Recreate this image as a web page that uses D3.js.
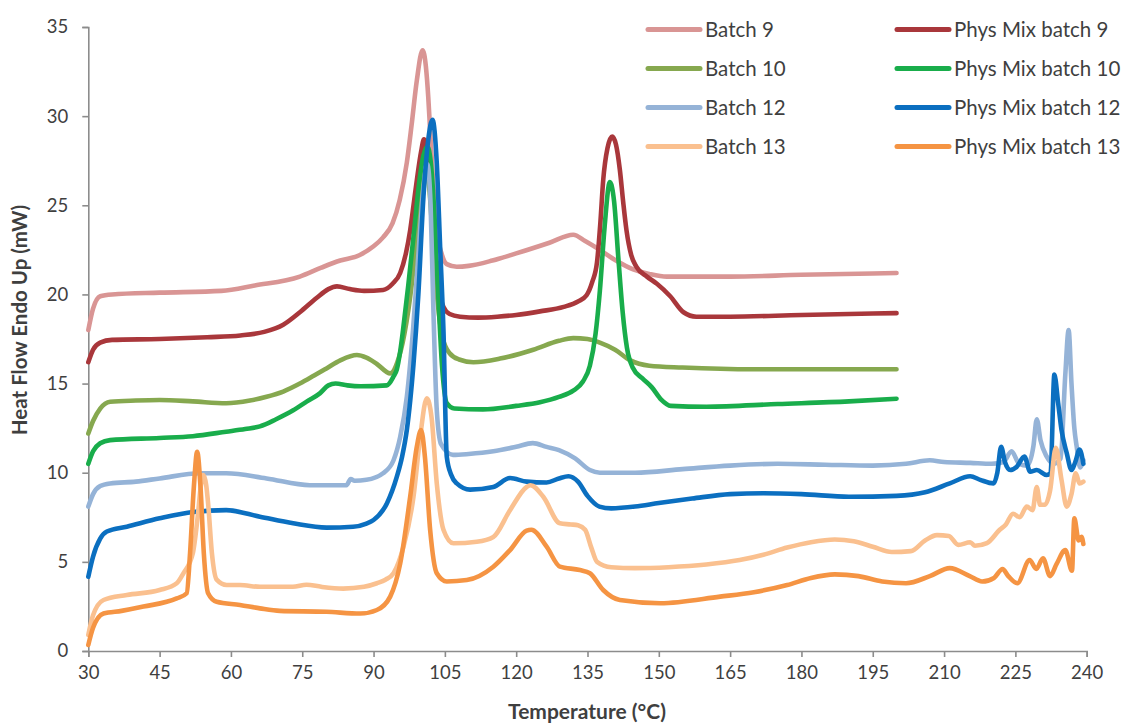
<!DOCTYPE html>
<html><head><meta charset="utf-8">
<script src="https://cdn.jsdelivr.net/npm/d3@7"></script>
<style>
html,body{margin:0;padding:0;background:#fff;}
svg{display:block;}
text{font-family:Lato,"Open Sans",sans-serif;}
</style></head>
<body>
<svg id="chart" width="1126" height="726"></svg>
<script>
// ---- data: [temperature °C, heat flow mW] ----
const xTicks = [30,45,60,75,90,105,120,135,150,165,180,195,210,225,240];
const yTicks = [0,5,10,15,20,25,30,35];
const seriesNames = ["Batch 9","Phys Mix batch 9","Batch 10","Phys Mix batch 10","Batch 12","Phys Mix batch 12","Batch 13","Phys Mix batch 13"];
const seriesColors = ["#d99594","#a9373b","#86a84f","#19ad4b","#95b3d7","#0b6fc0","#fac08f","#f59443"];

const batch9 = [[30,18.0],[31,19.2],[32.5,19.9],[35,20.0],[45,20.1],[58,20.2],[65,20.5],[74.5,21.0],[79,21.5],[83,21.9],[87,22.2],[90,22.7],[92,23.2],[94,24.0],[95.5,25.3],[97,27.4],[98,29.5],[99.1,32.0],[100.3,33.7],[101,32.8],[101.5,31.1],[101.9,29.2],[102.6,26.0],[103.3,23.6],[104.3,22.3],[105.4,21.7],[107.5,21.55],[110,21.6],[115,21.9],[120,22.3],[127,22.9],[132,23.35],[134.5,23.0],[137.6,22.5],[141,21.9],[144.6,21.4],[148,21.15],[151.7,21.0],[165,21.0],[180,21.1],[200,21.2]];
const physMix9 = [[30,16.2],[31,16.9],[32.5,17.3],[35,17.45],[45,17.5],[55,17.6],[62,17.7],[67,17.9],[71,18.3],[74.5,19.0],[78,19.8],[80.5,20.3],[82.3,20.45],[85,20.3],[88,20.2],[92,20.25],[94,20.6],[95.6,21.2],[96.8,22.3],[97.7,23.6],[98.5,25.2],[99.2,26.6],[100,28.0],[100.6,28.7],[101.3,28.0],[102,25.5],[102.8,22.5],[103.7,20.3],[104.7,19.3],[106,18.9],[108.2,18.75],[112,18.7],[116,18.75],[120,18.85],[125,19.05],[130,19.3],[133,19.6],[134.8,19.95],[136,20.7],[137,21.8],[137.7,24.0],[138.3,26.4],[139.2,28.2],[140.2,28.85],[141,28.4],[141.8,27.0],[142.5,25.2],[143.2,23.6],[144.2,22.2],[145.3,21.55],[147.5,21.0],[149.6,20.6],[152.4,19.9],[155.2,19.0],[157.9,18.75],[165,18.75],[180,18.85],[200,18.95]];
const batch10 = [[30,12.2],[31,12.9],[32.5,13.6],[34.6,13.98],[40,14.05],[45,14.08],[52,14.0],[59,13.9],[64,14.05],[67.5,14.26],[71,14.55],[74.5,15.0],[77.5,15.45],[80.1,15.85],[83,16.3],[86.5,16.6],[88.5,16.45],[90.7,16.1],[93.5,15.57],[95,16.2],[96.5,17.8],[98,20.5],[99.3,24.0],[100.3,26.5],[101,27.0],[101.7,26.0],[102.5,23.0],[103.5,19.5],[104.5,17.6],[106,16.7],[108,16.35],[111,16.2],[116.6,16.4],[123.6,16.9],[129,17.4],[132,17.55],[135,17.5],[137.6,17.3],[140.8,16.9],[144,16.3],[148,16.0],[155,15.9],[170,15.8],[200,15.8]];
const physMix10 = [[30,10.5],[31,11.2],[32.5,11.65],[34.6,11.83],[45,11.95],[52,12.05],[59,12.3],[63,12.45],[66.1,12.6],[69.5,13.0],[73.1,13.5],[76,14.0],[78.7,14.45],[80.5,14.9],[82,15.0],[84.5,14.9],[87.2,14.85],[92.8,14.9],[94.2,15.4],[94.9,15.8],[95.6,16.8],[96.2,18.0],[97.3,20.5],[98.5,23.5],[99.7,26.5],[100.5,27.8],[101.3,28.3],[102,27.5],[102.8,24.5],[103.6,20.0],[104.4,16.0],[105.4,13.9],[107,13.6],[113,13.55],[120,13.75],[125,13.95],[129,14.25],[132,14.6],[134,15.1],[135.5,16.0],[136.7,17.8],[137.6,20.2],[138.6,23.8],[139.7,26.3],[140.6,25.2],[141.5,22.0],[142.4,19.0],[143.3,17.0],[144.5,15.9],[146.5,15.3],[148.5,14.8],[150.5,14.1],[152.5,13.75],[160,13.7],[175,13.85],[190,14.0],[200,14.15]];
const batch12 = [[30,8.1],[31,8.8],[32.5,9.25],[34.6,9.4],[40,9.5],[45,9.68],[53.5,9.97],[59,9.97],[67.5,9.68],[76.6,9.3],[84.3,9.3],[85.2,9.65],[86,9.55],[88.5,9.6],[92,9.97],[94.2,10.7],[95.6,12.0],[97,14.26],[98.3,18.0],[99.5,22.5],[100.5,26.0],[101.3,27.3],[102,25.0],[102.6,19.0],[103.3,13.5],[104.2,11.6],[106.7,11.0],[110,11.05],[115.2,11.2],[120,11.45],[123.5,11.66],[126.4,11.45],[129,11.27],[132.4,10.8],[135.5,10.15],[137.6,10.0],[145,10.0],[155,10.2],[165,10.4],[175,10.5],[185,10.45],[195,10.4],[202,10.5],[207,10.7],[210,10.6],[215.5,10.55],[220,10.5],[222.5,10.6],[224.2,11.2],[225.8,10.5],[227.5,10.4],[228.8,11.5],[229.5,13.0],[230.3,11.8],[231.6,10.9],[233,10.5],[234.5,10.8],[235.5,15.5],[236.2,18.0],[236.8,15.0],[237.4,12.5],[237.9,11.46],[238.6,10.3],[239.3,10.7]];
const physMix12 = [[30,4.17],[31,5.3],[32.5,6.3],[33.9,6.7],[38.1,6.97],[45,7.44],[52.1,7.8],[59,7.9],[66.1,7.53],[73.1,7.16],[80.1,6.92],[85.7,6.97],[88.5,7.15],[90,7.35],[92.8,8.28],[94.9,9.78],[96,10.9],[97,12.4],[98.4,16.1],[99.4,19.9],[100.5,25.5],[101.5,28.66],[102.4,29.8],[103.3,27.35],[104,22.7],[104.7,18.0],[105.4,10.9],[106.3,9.9],[107.5,9.4],[110.3,9.05],[115.2,9.2],[118.7,9.7],[122.2,9.5],[126.4,9.45],[129,9.68],[131,9.8],[133,9.5],[135,8.7],[137.5,8.1],[140,8.0],[145,8.1],[150,8.3],[157,8.55],[165,8.8],[172,8.85],[180,8.8],[190,8.65],[200,8.7],[206,8.9],[211.2,9.4],[215.5,9.8],[217.6,9.6],[220.4,9.4],[221.2,10.0],[222,11.46],[222.8,10.6],[223.9,10.15],[225.3,10.34],[226.9,10.9],[228.1,10.06],[229.5,10.15],[231.6,9.87],[232.4,9.97],[233.2,15.5],[234,13.9],[234.7,12.4],[235.8,11.1],[236.8,10.15],[237.6,10.6],[238.5,11.3],[239.3,10.5]];
const batch13 = [[30,0.9],[31,2.0],[33.2,2.86],[38.1,3.14],[45,3.42],[48.6,3.8],[50,4.36],[52,5.5],[53,7.5],[53.7,9.3],[54.2,9.87],[54.8,9.3],[55.2,8.28],[56,5.48],[57,4.0],[59.1,3.7],[61.9,3.7],[66.1,3.6],[73,3.6],[75.9,3.72],[79,3.6],[83.6,3.5],[88,3.6],[90.7,3.8],[92.5,4.0],[94.2,4.36],[96.3,5.85],[98.4,8.65],[99.8,12.0],[101.2,14.17],[102.2,13.1],[103.3,9.4],[104.7,6.8],[106.8,6.04],[111.7,6.13],[115.2,6.4],[118.7,7.9],[122.2,9.2],[123,9.3],[125.7,8.65],[129.2,7.16],[131.5,7.1],[133,7.05],[134.5,6.8],[135.8,5.8],[137,5.0],[140,4.7],[145,4.65],[152,4.7],[160,4.85],[167,5.1],[172,5.4],[177,5.8],[182,6.1],[187,6.25],[191,6.15],[195,5.85],[199,5.55],[203,5.6],[206,6.2],[208.5,6.5],[211,6.45],[213,5.95],[215.5,6.1],[216.5,5.9],[219,6.05],[221.7,6.8],[223,7.1],[224.5,7.7],[225.9,7.5],[227.4,8.1],[228.6,7.9],[229.5,9.2],[230.2,8.2],[231.2,8.2],[232.3,9.0],[233.5,11.4],[234.7,9.6],[235.8,8.1],[236.8,8.8],[237.7,9.97],[238.5,9.4],[239.3,9.5]];
const physMix13 = [[30,0.34],[31,1.3],[33.2,2.1],[37,2.25],[41.6,2.49],[48.6,2.95],[50.7,3.24],[51.4,5.48],[52.2,9.2],[52.9,11.18],[53.6,9.2],[54.3,5.48],[55.2,3.24],[57,2.76],[61.9,2.58],[66.1,2.39],[70.3,2.25],[80.1,2.2],[87.2,2.1],[90.7,2.3],[93.5,3.05],[95.6,4.9],[97.7,8.65],[99.1,11.46],[100,12.4],[100.8,10.9],[101.9,6.8],[103.3,4.36],[105.4,3.9],[109.6,3.98],[115.2,4.73],[118.7,5.66],[122.2,6.75],[123.2,6.8],[126.4,5.85],[129.2,4.73],[133.4,4.54],[135.5,4.36],[138.3,3.42],[141.8,2.86],[150.3,2.68],[162.9,3.05],[170,3.3],[177,3.7],[182,4.1],[187,4.3],[192,4.2],[197,3.9],[202,3.8],[207,4.2],[211.2,4.65],[215.4,4.2],[218,3.9],[220.5,4.1],[222.3,4.6],[223.5,4.2],[225.4,3.8],[228,5.1],[229.4,4.6],[230.8,5.2],[232.3,4.2],[233.7,4.9],[235.5,5.66],[236.9,4.5],[237.4,7.44],[238.3,6.2],[238.9,6.4],[239.3,6.0]];

const seriesData = [batch9, physMix9, batch10, physMix10, batch12, physMix12, batch13, physMix13];

// ---- layout ----
const svg = d3.select("#chart");
const x = d3.scaleLinear().domain([30,240]).range([88.3,1086.7]);
const y = d3.scaleLinear().domain([0,35]).range([651,27]);
const axisColor = "#8c8c8c";
const labelColor = "#3f3f3f";

// x axis
const gx = svg.append("g").attr("transform","translate(0,651)")
  .call(d3.axisBottom(x).tickValues(xTicks).tickSize(6).tickPadding(9).tickFormat(d3.format("d")));
gx.select(".domain").attr("stroke",axisColor).attr("stroke-width",1.6);
gx.selectAll(".tick line").attr("stroke",axisColor).attr("stroke-width",1.6);
gx.selectAll(".tick text").attr("fill",labelColor).style("font-size","18.5px").style("font-family","Lato, sans-serif");

// y axis
const gy = svg.append("g").attr("transform","translate(88.3,0)")
  .call(d3.axisLeft(y).tickValues(yTicks).tickSize(6).tickPadding(14).tickFormat(d3.format("d")));
gy.select(".domain").attr("stroke",axisColor).attr("stroke-width",1.6);
gy.selectAll(".tick line").attr("stroke",axisColor).attr("stroke-width",1.6);
gy.selectAll(".tick text").attr("fill",labelColor).style("font-size","18.5px").style("font-family","Lato, sans-serif");

// titles
svg.append("text").attr("x",587).attr("y",719).attr("text-anchor","middle")
  .attr("fill",labelColor).style("font-size","21px").style("font-weight","bold").text("Temperature (°C)");
svg.append("text").attr("transform","translate(27,320) rotate(-90)").attr("text-anchor","middle")
  .attr("fill",labelColor).style("font-size","20.5px").style("font-weight","bold").text("Heat Flow Endo Up (mW)");

// lines
const line = d3.line().x(d=>x(d[0])).y(d=>y(d[1])).curve(d3.curveMonotoneX);
seriesData.forEach((data,i)=>{
  svg.append("path").datum(data).attr("d",line)
    .attr("fill","none").attr("stroke",seriesColors[i]).attr("stroke-width",4.6)
    .attr("stroke-linejoin","round").attr("stroke-linecap","round");
});

// legend
const legX = [648, 897];
const legY0 = 29.5, legDy = 39;
seriesNames.forEach((name,i)=>{
  const col = i % 2, row = Math.floor(i/2);
  const lx = legX[col], ly = legY0 + row*legDy;
  svg.append("line").attr("x1",lx).attr("x2",lx+52).attr("y1",ly).attr("y2",ly)
    .attr("stroke",seriesColors[i]).attr("stroke-width",5).attr("stroke-linecap","round");
  svg.append("text").attr("x",lx+57).attr("y",ly).attr("dy","0.35em")
    .attr("fill",labelColor).style("font-size","20.5px").text(name);
});
</script>
</body></html>
